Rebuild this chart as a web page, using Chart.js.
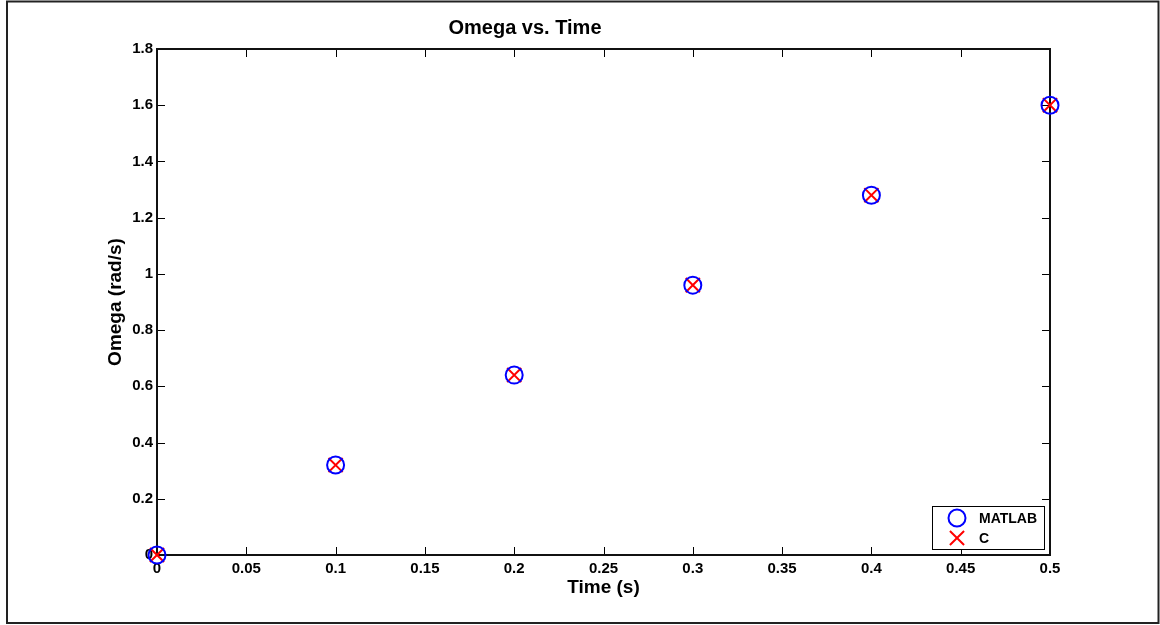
<!DOCTYPE html>
<html>
<head>
<meta charset="utf-8">
<title>Omega vs. Time</title>
<script src="https://cdn.jsdelivr.net/npm/chart.js@4/dist/chart.umd.min.js"></script>
<style>
  body { margin: 0; background: #fff; }
  #wrap { width: 1160px; height: 625px; }
</style>
</head>
<body>
<div id="wrap"><canvas id="omegaChart" width="1160" height="625"></canvas></div>
<script>
const times = [0, 0.1, 0.2, 0.3, 0.4, 0.5];
const matlabOmega = [0, 0.32, 0.64, 0.96, 1.28, 1.6];
const cOmega = [0, 0.32, 0.64, 0.96, 1.28, 1.6];
const xTicks = [0, 0.05, 0.1, 0.15, 0.2, 0.25, 0.3, 0.35, 0.4, 0.45, 0.5];
const yTicks = [0, 0.2, 0.4, 0.6, 0.8, 1, 1.2, 1.4, 1.6, 1.8];

const FONT = "'Liberation Sans', Arial, Helvetica, sans-serif";

function fmt(v) {
    return String(Number(v.toFixed(2)));
}

// outer figure border, axes box and inward ticks
const matlabBox = {
    id: 'matlabBox',
    beforeDraw(chart) {
        const ctx = chart.ctx;
        ctx.save();
        ctx.strokeStyle = '#222';
        ctx.lineWidth = 2;
        ctx.strokeRect(7, 1.5, 1151.5, 621.5);
        ctx.restore();
    },
    beforeDatasetsDraw(chart) {
        const ctx = chart.ctx;
        const a = chart.chartArea;
        const xs = chart.scales.x, ys = chart.scales.y;
        ctx.save();
        ctx.strokeStyle = '#000';
        ctx.lineWidth = 1;
        ctx.beginPath();
        xTicks.forEach(v => {
            const px = Math.round(xs.getPixelForValue(v)) + 0.5;
            ctx.moveTo(px, a.bottom); ctx.lineTo(px, a.bottom - 8);
            ctx.moveTo(px, a.top); ctx.lineTo(px, a.top + 8);
        });
        yTicks.forEach(v => {
            const py = Math.round(ys.getPixelForValue(v)) + 0.5;
            ctx.moveTo(a.left, py); ctx.lineTo(a.left + 8, py);
            ctx.moveTo(a.right, py); ctx.lineTo(a.right - 8, py);
        });
        ctx.stroke();
        ctx.lineWidth = 2;
        ctx.strokeStyle = '#111';
        ctx.strokeRect(a.left, a.top, a.right - a.left, a.bottom - a.top);
        ctx.restore();
    },
    afterDraw(chart) {
        // legend box in the lower right corner
        const ctx = chart.ctx;
        const ds = chart.data.datasets;
        ctx.save();
        ctx.fillStyle = '#fff';
        ctx.strokeStyle = '#000';
        ctx.lineWidth = 1;
        ctx.fillRect(932.5, 506.5, 112, 43);
        ctx.strokeRect(932.5, 506.5, 112, 43);
        const rows = [518, 538];
        ds.forEach((d, i) => {
            const cx = 957, cy = rows[i];
            ctx.strokeStyle = d.borderColor;
            ctx.lineWidth = d.borderWidth;
            ctx.beginPath();
            if (d.pointStyle === 'circle') {
                ctx.arc(cx, cy, d.pointRadius, 0, Math.PI * 2);
            } else {
                const r = d.pointRadius * Math.SQRT1_2;
                ctx.moveTo(cx - r, cy - r); ctx.lineTo(cx + r, cy + r);
                ctx.moveTo(cx - r, cy + r); ctx.lineTo(cx + r, cy - r);
            }
            ctx.stroke();
            ctx.fillStyle = '#000';
            ctx.font = 'bold 14px ' + FONT;
            ctx.textBaseline = 'middle';
            ctx.textAlign = 'left';
            ctx.fillText(d.label, 979, cy + 1);
        });
        ctx.restore();
    }
};

new Chart(document.getElementById('omegaChart'), {
    type: 'scatter',
    data: {
        datasets: [{
            label: 'MATLAB',
            data: times.map((t, i) => ({ x: t, y: matlabOmega[i] })),
            pointStyle: 'circle',
            pointRadius: 8.5,
            pointHoverRadius: 8.5,
            borderColor: '#0000ff',
            backgroundColor: 'rgba(0,0,0,0)',
            borderWidth: 2,
            showLine: false,
            clip: false
        }, {
            label: 'C',
            data: times.map((t, i) => ({ x: t, y: cOmega[i] })),
            pointStyle: 'crossRot',
            pointRadius: 10,
            pointHoverRadius: 10,
            borderColor: '#ff0000',
            backgroundColor: '#ff0000',
            borderWidth: 2,
            showLine: false,
            clip: false
        }]
    },
    options: {
        responsive: false,
        animation: false,
        events: [],
        layout: { padding: { top: 0, right: 110, bottom: 0, left: 0 } },
        plugins: {
            legend: { display: false },
            tooltip: { enabled: false },
            title: {
                display: true,
                text: 'Omega vs. Time',
                color: '#000',
                font: { family: FONT, size: 20, weight: 'bold', lineHeight: 1.2 },
                padding: { top: 16, bottom: 9 }
            }
        },
        scales: {
            x: {
                type: 'linear',
                position: 'bottom',
                min: 0,
                max: 0.5,
                grid: { display: false, drawTicks: false },
                border: { display: false },
                afterBuildTicks: s => { s.ticks = xTicks.map(v => ({ value: v })); },
                afterFit: s => { s.height = 70; },
                ticks: {
                    color: '#000',
                    padding: 5,
                    maxRotation: 0,
                    autoSkip: false,
                    font: { family: FONT, size: 15, weight: 'bold' },
                    callback: v => fmt(v)
                },
                title: {
                    display: true,
                    text: 'Time (s)',
                    color: '#000',
                    font: { family: FONT, size: 19, weight: 'bold', lineHeight: 1.2 },
                    padding: { top: 0, bottom: 26 }
                }
            },
            y: {
                type: 'linear',
                min: 0,
                max: 1.8,
                grid: { display: false, drawTicks: false },
                border: { display: false },
                afterBuildTicks: s => { s.ticks = yTicks.map(v => ({ value: v })); },
                afterFit: s => { s.width = 157; },
                ticks: {
                    color: '#000',
                    padding: 4,
                    autoSkip: false,
                    font: { family: FONT, size: 15, weight: 'bold' },
                    callback: v => fmt(v)
                },
                title: {
                    display: true,
                    text: 'Omega (rad/s)',
                    color: '#000',
                    font: { family: FONT, size: 19, weight: 'bold', lineHeight: 1.2 },
                    padding: { top: 104, bottom: 0 }
                }
            }
        }
    },
    plugins: [matlabBox]
});
</script>
</body>
</html>
